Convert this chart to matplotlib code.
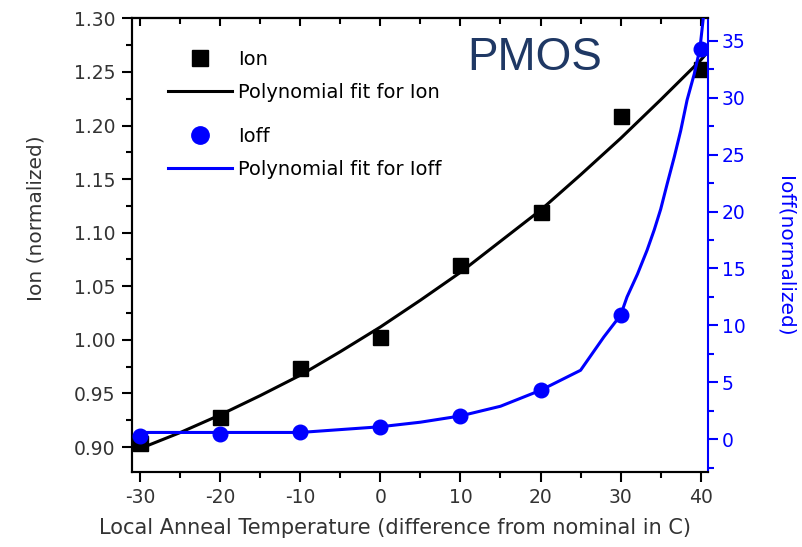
import matplotlib
matplotlib.use('Agg')
import matplotlib.pyplot as plt
from matplotlib.ticker import MultipleLocator
from matplotlib.lines import Line2D

plt.rcParams['font.family'] = 'DejaVu Sans'
plt.rcParams['axes.unicode_minus'] = False

# Measured data
temps = [-30, -20, -10, 0, 10, 20, 30, 40]
ion = [0.9035, 0.928, 0.974, 1.0025, 1.0697, 1.119, 1.209, 1.253]
ioff = [0.3, 0.45, 0.6, 1.1, 2.05, 4.3, 10.9, 34.3]

# Polynomial fit curves
ion_fit_x = [-30.2, -25, -20, -15, -10, -5, 0, 5, 10, 15, 20, 25, 30, 35, 40, 40.8]
ion_fit_y = [0.898, 0.9135, 0.930, 0.948, 0.967, 0.989, 1.012, 1.037, 1.063,
             1.092, 1.121, 1.154, 1.188, 1.224, 1.261, 1.268]
ioff_fit_x = [-30, -20, -10, -5, 0, 5, 10, 15, 20, 25, 27.9, 30, 30.8, 32.1, 33.3,
              34.2, 35, 35.8, 36.7, 37.5, 38.3, 39.2, 39.9, 40.4]
ioff_fit_y = [0.6, 0.6, 0.6, 0.85, 1.1, 1.5, 2.05, 2.9, 4.3, 6.06, 8.98, 10.9, 12.5,
              14.5, 16.6, 18.4, 20.2, 22.4, 24.8, 27.1, 29.8, 32.1, 34.3, 37.5]

blue = '#0000ff'
txt = '#333333'
fs_tick = 13.5

fig = plt.figure(figsize=(8.02, 5.47), dpi=100)
ax = fig.add_axes([0.165, 0.1376, 0.7182, 0.8289])
ax2 = ax.twinx()

# Ion on left axis
ax.plot(ion_fit_x, ion_fit_y, color='black', lw=2.2, zorder=3)
ax.plot(temps, ion, 's', color='black', ms=10.8, zorder=4)

# Ioff on right axis
ax2.plot(ioff_fit_x, ioff_fit_y, color=blue, lw=2.2, zorder=3)
ax2.plot(temps, ioff, 'o', color=blue, ms=10.5, zorder=4)

ax.set_xlim(-30.96, 40.95)
ax.set_ylim(0.877, 1.30)
ax2.set_ylim(-2.85, 36.97)

ax.xaxis.set_major_locator(MultipleLocator(10))
ax.xaxis.set_minor_locator(MultipleLocator(5))
ax.yaxis.set_major_locator(MultipleLocator(0.05))
ax.yaxis.set_minor_locator(MultipleLocator(0.025))
ax2.yaxis.set_major_locator(MultipleLocator(5))
ax2.yaxis.set_minor_locator(MultipleLocator(2.5))
ax.yaxis.set_major_formatter(plt.FormatStrFormatter('%.2f'))

ax.tick_params(axis='both', which='major', direction='out', length=7, width=1.5,
               labelsize=fs_tick, colors='black', labelcolor=txt)
ax.tick_params(axis='both', which='minor', direction='out', length=4, width=1.5)
ax.tick_params(axis='x', which='major', pad=5)
ax.tick_params(axis='y', which='major', pad=5)
ax2.tick_params(axis='y', which='major', direction='out', length=7, width=1.5,
                labelsize=fs_tick, colors=blue, pad=2.5)
ax2.tick_params(axis='y', which='minor', direction='out', length=4, width=1.5,
                colors=blue)

# top ticks pointing inward
top = ax.secondary_xaxis('top')
top.xaxis.set_major_locator(MultipleLocator(10))
top.xaxis.set_minor_locator(MultipleLocator(5))
top.tick_params(which='major', direction='in', length=6, width=1.5, labeltop=False)
top.tick_params(which='minor', direction='in', length=4, width=1.5)
top.spines['top'].set_linewidth(1.5)

for s in ['left', 'bottom', 'top']:
    ax.spines[s].set_linewidth(1.5)
    ax2.spines[s].set_linewidth(1.5)
ax2.spines['right'].set_color(blue)
ax2.spines['right'].set_linewidth(1.5)
ax.spines['right'].set_visible(False)

# axis titles
fig.text(0.0443, 0.6015, 'Ion (normalized)', fontsize=14.5, color=txt,
         rotation=90, ha='center', va='center')
fig.text(0.9788, 0.532, 'Ioff(normalized)', fontsize=14.5, color=blue,
         rotation=270, ha='center', va='center')
fig.text(0.4925, 0.0347, 'Local Anneal Temperature (difference from nominal in C)',
         fontsize=15, color=txt, ha='center', va='center')

# two legend groups
leg_kw = dict(loc='upper left', frameon=False, fontsize=14, handlelength=3.3,
              handletextpad=0.3, labelspacing=0.71, borderpad=0, borderaxespad=0)
leg1 = ax2.legend([Line2D([], [], ls='none', marker='s', color='black', ms=11.5),
                   Line2D([], [], color='black', lw=2.2)],
                  ['Ion', 'Polynomial fit for Ion'],
                  bbox_to_anchor=(0.062, 0.930), **leg_kw)
ax2.add_artist(leg1)
ax2.legend([Line2D([], [], ls='none', marker='o', color=blue, ms=12.5),
            Line2D([], [], color=blue, lw=2.2)],
           ['Ioff', 'Polynomial fit for Ioff'],
           bbox_to_anchor=(0.062, 0.760), **leg_kw)

fig.text(0.5823, 0.872, 'PMOS', fontsize=33, color='#1f3864',
         family='Liberation Sans', ha='left', va='baseline')

fig.savefig('out.png', dpi=100)
